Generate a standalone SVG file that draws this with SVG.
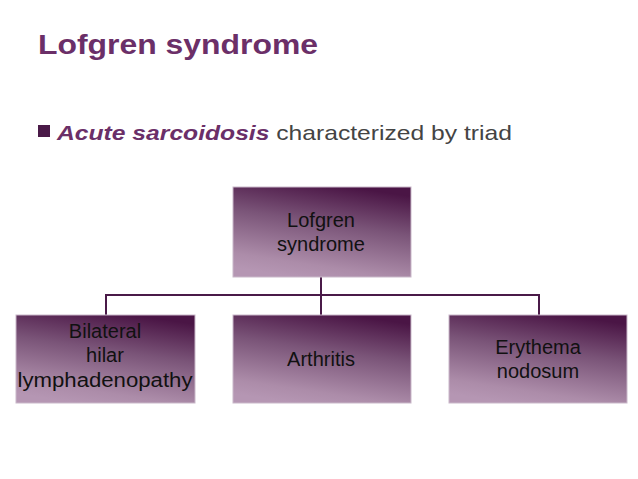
<svg xmlns="http://www.w3.org/2000/svg" width="638" height="479" viewBox="0 0 638 479">
<style>
.t{font-family:"Liberation Sans",Arial,sans-serif;font-size:20px;fill:#111;text-anchor:middle}
.b{stroke:#c9b8c9;stroke-width:1}
</style>
<defs>
<linearGradient id="g" x1="0.65" y1="0" x2="0.35" y2="1">
<stop offset="0" stop-color="#4a1545"/>
<stop offset="0.4" stop-color="#7a5478"/>
<stop offset="0.85" stop-color="#ac8ca9"/>
<stop offset="1" stop-color="#b596b3"/>
</linearGradient>
</defs>
<rect width="638" height="479" fill="#fff"/>
<text x="38" y="54" font-family="Liberation Sans,Arial,sans-serif" font-size="28" font-weight="bold" fill="#6b2f68" textLength="280" lengthAdjust="spacingAndGlyphs">Lofgren syndrome</text>
<rect x="38" y="125" width="12" height="12" fill="#4a1a48"/>
<text x="57" y="140" font-family="Liberation Sans,Arial,sans-serif" font-size="21" fill="#444" textLength="455" lengthAdjust="spacingAndGlyphs"><tspan font-weight="bold" font-style="italic" fill="#6b2f68">Acute sarcoidosis</tspan> characterized by triad</text>
<g id="connectors" stroke="#4a1a48" stroke-width="2" fill="none">
<path d="M321 277V295M106 315V295H539V315M321 295V315"/>
</g>
<g id="top"><rect class="b" x="233" y="187" width="178" height="90" fill="url(#g)"/><text class="t" x="321" y="227">Lofgren</text><text class="t" x="321" y="251">syndrome</text></g>
<g id="bhl"><rect class="b" x="16" y="315" width="179" height="88" fill="url(#g)"/><text class="t" x="105" y="338">Bilateral</text><text class="t" x="105" y="362">hilar</text><text class="t" x="105" y="387" textLength="175" lengthAdjust="spacingAndGlyphs">lymphadenopathy</text></g>
<g id="arth"><rect class="b" x="233" y="315" width="178" height="88" fill="url(#g)"/><text class="t" x="321" y="366">Arthritis</text></g>
<g id="en"><rect class="b" x="449" y="315" width="178" height="88" fill="url(#g)"/><text class="t" x="538" y="354">Erythema</text><text class="t" x="538" y="378">nodosum</text></g>
</svg>
